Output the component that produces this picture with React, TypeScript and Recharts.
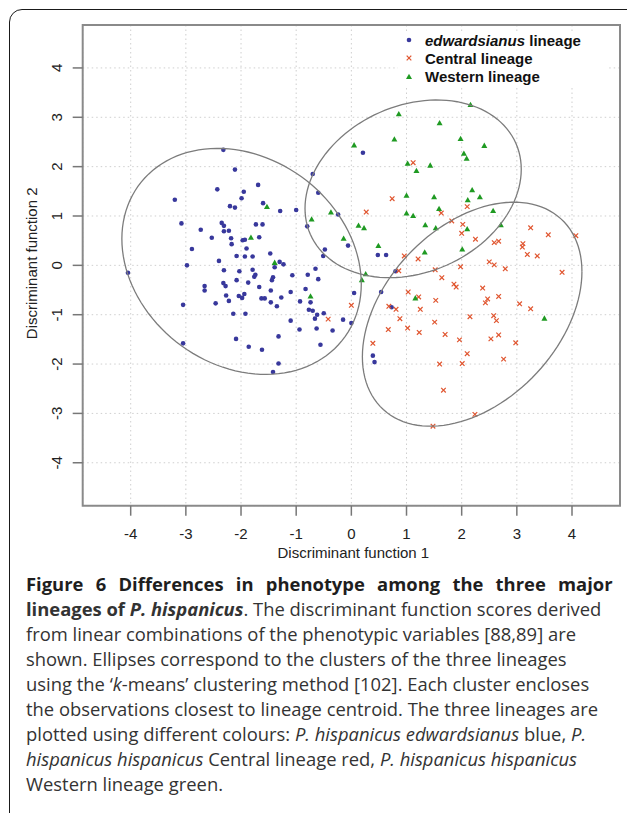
import React from 'react';
import { ScatterChart, Scatter, XAxis, YAxis, CartesianGrid, ReferenceArea, Legend, Label } from 'recharts';

// discriminant scores, one array per lineage
const edwardsianus = [
  { x: -2.32, y: 2.34 }, { x: -2.11, y: 1.94 }, { x: -1.69, y: 1.63 }, { x: -2.43, y: 1.54 },
  { x: -1.95, y: 1.49 }, { x: -3.2, y: 1.33 }, { x: -1.99, y: 1.36 }, { x: -1.6, y: 1.26 },
  { x: -2.2, y: 1.2 }, { x: -2.11, y: 1.17 }, { x: -1.29, y: 1.1 }, { x: -1.0, y: 1.12 },
  { x: -3.08, y: 0.85 }, { x: -2.35, y: 0.86 }, { x: -2.31, y: 0.8 }, { x: -1.73, y: 0.83 },
  { x: -1.61, y: 0.83 }, { x: -2.73, y: 0.72 }, { x: -2.31, y: 0.69 }, { x: -2.22, y: 0.7 },
  { x: -2.53, y: 0.56 }, { x: -2.18, y: 0.55 }, { x: -1.97, y: 0.51 }, { x: -1.93, y: 0.52 },
  { x: -1.67, y: 0.57 }, { x: -2.17, y: 0.43 }, { x: -2.89, y: 0.33 }, { x: -1.9, y: 0.34 },
  { x: -1.47, y: 0.24 }, { x: -2.08, y: 0.19 }, { x: -1.93, y: 0.18 }, { x: -1.79, y: 0.18 },
  { x: -2.4, y: 0.09 }, { x: -2.98, y: 0.0 }, { x: -1.3, y: 0.07 }, { x: -1.23, y: 0.02 },
  { x: -1.39, y: -0.04 }, { x: -4.05, y: -0.15 }, { x: -2.31, y: -0.1 }, { x: -2.03, y: -0.12 },
  { x: -1.79, y: -0.09 }, { x: -1.07, y: -0.2 }, { x: -0.79, y: -0.19 }, { x: -0.65, y: -0.07 },
  { x: -1.76, y: -0.23 }, { x: -1.74, y: -0.19 }, { x: -1.42, y: -0.24 }, { x: -2.08, y: -0.3 },
  { x: -1.87, y: -0.35 }, { x: -1.44, y: -0.3 }, { x: -0.6, y: -0.28 }, { x: -2.32, y: -0.36 },
  { x: -2.28, y: -0.42 }, { x: -2.66, y: -0.42 }, { x: -2.66, y: -0.51 }, { x: -1.67, y: -0.44 },
  { x: -0.83, y: -0.48 }, { x: -1.46, y: -0.51 }, { x: -1.1, y: -0.54 }, { x: -1.94, y: -0.58 },
  { x: -2.27, y: -0.61 }, { x: -2.04, y: -0.62 }, { x: -1.98, y: -0.66 }, { x: -1.63, y: -0.67 },
  { x: -1.57, y: -0.67 }, { x: -1.27, y: -0.65 }, { x: -0.74, y: -0.75 }, { x: -2.22, y: -0.72 },
  { x: -1.46, y: -0.75 }, { x: -0.93, y: -0.73 }, { x: -3.05, y: -0.8 }, { x: -2.46, y: -0.77 },
  { x: -1.35, y: -0.83 }, { x: -0.77, y: -0.9 }, { x: -0.7, y: -0.92 }, { x: -2.14, y: -0.98 },
  { x: -1.92, y: -0.98 }, { x: -0.5, y: -0.97 }, { x: -0.62, y: -1.0 }, { x: -0.66, y: -1.08 },
  { x: -0.15, y: -1.1 }, { x: 0.0, y: -1.17 }, { x: -1.1, y: -1.12 }, { x: -0.94, y: -1.3 },
  { x: -0.63, y: -1.28 }, { x: -0.34, y: -1.32 }, { x: -1.32, y: -1.44 }, { x: -2.09, y: -1.49 },
  { x: -3.05, y: -1.58 }, { x: -0.56, y: -1.61 }, { x: -1.86, y: -1.65 }, { x: -1.62, y: -1.71 },
  { x: -1.32, y: -1.99 }, { x: -1.42, y: -2.16 }, { x: 0.05, y: -0.56 }, { x: -0.7, y: 1.85 },
  { x: -0.6, y: 1.47 }, { x: -0.24, y: 1.03 }, { x: -0.8, y: 0.79 }, { x: -0.06, y: 0.4 },
  { x: -0.48, y: 0.32 }, { x: -0.51, y: 0.19 }, { x: 0.21, y: 2.28 }, { x: 0.48, y: 0.21 },
  { x: 0.63, y: 0.21 }, { x: 0.8, y: -0.12 }, { x: 0.54, y: -0.54 }, { x: 0.73, y: -0.85 },
  { x: 0.39, y: -1.83 }, { x: 0.42, y: -1.96 },
];

const central = [
  { x: 1.12, y: 2.08 }, { x: 0.74, y: 1.35 }, { x: 0.27, y: 1.08 }, { x: 1.63, y: 1.06 },
  { x: 2.1, y: 1.19 }, { x: 1.82, y: 0.9 }, { x: 2.02, y: 0.83 }, { x: 2.0, y: 0.65 },
  { x: 2.25, y: 0.53 }, { x: 2.59, y: 0.46 }, { x: 2.67, y: 0.49 }, { x: 3.11, y: 0.44 },
  { x: 3.19, y: 0.22 }, { x: 0.96, y: 0.19 }, { x: 1.21, y: 0.13 }, { x: 2.5, y: 0.07 },
  { x: 2.59, y: 0.01 }, { x: 1.98, y: -0.03 }, { x: 1.52, y: -0.09 }, { x: 2.79, y: -0.07 },
  { x: 0.86, y: -0.11 }, { x: 1.64, y: -0.25 }, { x: 1.86, y: -0.38 }, { x: 1.9, y: -0.44 },
  { x: 2.38, y: -0.46 }, { x: 3.25, y: 0.76 }, { x: 3.57, y: 0.62 }, { x: 4.07, y: 0.6 },
  { x: 3.1, y: 0.37 }, { x: 3.37, y: 0.19 }, { x: 3.82, y: -0.14 }, { x: 1.03, y: -0.54 },
  { x: 1.22, y: -0.64 }, { x: 2.67, y: -0.63 }, { x: 2.47, y: -0.68 }, { x: 2.43, y: -0.76 },
  { x: 1.53, y: -0.71 }, { x: 3.05, y: -0.78 }, { x: 3.25, y: -0.88 }, { x: 0.68, y: -0.83 },
  { x: 0.81, y: -0.89 }, { x: 1.25, y: -0.89 }, { x: 0.0, y: -0.81 }, { x: 0.88, y: -1.08 },
  { x: 2.15, y: -1.04 }, { x: 2.58, y: -1.02 }, { x: 2.63, y: -1.12 }, { x: 1.51, y: -1.15 },
  { x: 0.67, y: -1.3 }, { x: 1.02, y: -1.27 }, { x: 1.23, y: -1.36 }, { x: 1.7, y: -1.4 },
  { x: 2.53, y: -1.49 }, { x: 2.67, y: -1.41 }, { x: 1.96, y: -1.51 }, { x: 2.98, y: -1.57 },
  { x: 0.39, y: -1.58 }, { x: 2.1, y: -1.79 }, { x: 2.76, y: -1.9 }, { x: 1.6, y: -2.0 },
  { x: 2.01, y: -1.99 }, { x: 1.67, y: -2.53 }, { x: 2.24, y: -3.02 }, { x: 1.48, y: -3.26 },
  { x: -0.42, y: -1.09 },
];

const western = [
  { x: -1.53, y: 1.18 }, { x: -1.82, y: 0.56 }, { x: -1.39, y: 0.05 }, { x: -0.74, y: -0.63 },
  { x: -0.72, y: 0.93 }, { x: -0.37, y: 1.07 }, { x: -0.14, y: 0.54 }, { x: 0.13, y: 0.8 },
  { x: 0.05, y: 2.43 }, { x: 2.16, y: 3.25 }, { x: 0.86, y: 3.06 }, { x: 1.6, y: 2.88 },
  { x: 0.78, y: 2.55 }, { x: 1.98, y: 2.56 }, { x: 2.41, y: 2.42 }, { x: 2.04, y: 2.26 },
  { x: 2.09, y: 2.16 }, { x: 1.02, y: 2.06 }, { x: 1.43, y: 2.02 }, { x: 1.18, y: 1.91 },
  { x: 2.19, y: 1.52 }, { x: 1.0, y: 1.41 }, { x: 1.5, y: 1.38 }, { x: 2.33, y: 1.38 },
  { x: 2.11, y: 1.32 }, { x: 1.59, y: 1.14 }, { x: 2.57, y: 1.1 }, { x: 1.0, y: 1.05 },
  { x: 1.12, y: 1.0 }, { x: 1.34, y: 0.81 }, { x: 1.53, y: 0.75 }, { x: 2.71, y: 0.81 },
  { x: 2.1, y: 0.73 }, { x: 0.23, y: 0.75 }, { x: 0.49, y: 0.39 }, { x: 1.33, y: 0.26 },
  { x: 2.01, y: 0.32 }, { x: 0.26, y: -0.18 }, { x: 0.19, y: -0.3 }, { x: 1.16, y: -0.67 },
  { x: 3.5, y: -1.08 },
];

// k-means cluster ellipses: centre, half extent along each axis, and tilt (correlation)
const clusterEllipses = [
  { cx: -1.99, cy: 0.08, halfX: 2.17, halfY: 2.29, rho: -0.2 },
  { cx: 1.12, cy: 1.55, halfX: 1.96, halfY: 1.8, rho: 0.22 },
  { cx: 2.19, cy: -0.99, halfX: 1.99, halfY: 2.27, rho: 0.38 },
];

const axisTicks = [-4, -3, -2, -1, 0, 1, 2, 3, 4];
const axisDomain: [number, number] = [-4.87, 4.87];
const lineageNames = ['edwardsianus lineage', 'Central lineage', 'Western lineage'];

const BLUE = '#38389c';
const RED = '#e0552f';
const GREEN = '#1f9a22';
const SANS = '"Liberation Sans", Arial, sans-serif';

// outline of an ellipse, walked once round
const outline = (e: typeof clusterEllipses[number]) => {
  const pts = [];
  const k = Math.sqrt(1 - e.rho * e.rho);
  for (let deg = 0; deg <= 360; deg += 3) {
    const t = (deg * Math.PI) / 180;
    pts.push({
      x: e.cx + e.halfX * Math.cos(t),
      y: e.cy + e.halfY * (e.rho * Math.cos(t) + k * Math.sin(t)),
    });
  }
  return pts;
};

const DotMark = (p: any) => <circle cx={p.cx} cy={p.cy} r={2.3} fill={BLUE} />;

const CrossMark = (p: any) => {
  const s = 2.3;
  return (
    <g stroke={RED} strokeWidth={1.2}>
      <line x1={p.cx - s} y1={p.cy - s} x2={p.cx + s} y2={p.cy + s} />
      <line x1={p.cx - s} y1={p.cy + s} x2={p.cx + s} y2={p.cy - s} />
    </g>
  );
};

const TriMark = (p: any) => (
  <polygon points={`${p.cx},${p.cy - 3.3} ${p.cx - 3},${p.cy + 2} ${p.cx + 3},${p.cy + 2}`} fill={GREEN} />
);

const XTick = ({ x, y, payload }: any) => (
  <text x={x} y={y + 21} textAnchor="middle" fontSize={15} fill="#222" fontFamily={SANS}>
    {payload.value}
  </text>
);

const YTick = ({ x, y, payload }: any) => (
  <text
    x={x - 14}
    y={y}
    transform={`rotate(-90 ${x - 14} ${y})`}
    textAnchor="middle"
    dominantBaseline="central"
    fontSize={15}
    fill="#222"
    fontFamily={SANS}
  >
    {payload.value}
  </text>
);

const marks = [
  <svg width={10} height={10}><circle cx={5} cy={5} r={2.3} fill={BLUE} /></svg>,
  <svg width={10} height={10}>
    <g stroke={RED} strokeWidth={1.2}>
      <line x1={2.7} y1={2.7} x2={7.3} y2={7.3} />
      <line x1={2.7} y1={7.3} x2={7.3} y2={2.7} />
    </g>
  </svg>,
  <svg width={10} height={10}><polygon points="5,1.7 2,7 8,7" fill={GREEN} /></svg>,
];

const LegendBox = () => (
  <div style={{ position: 'relative', width: 210, height: 57, background: '#fff', fontFamily: SANS, fontWeight: 'bold', fontSize: 15, color: '#111' }}>
    {lineageNames.map((name, i) => (
      <div key={name} style={{ position: 'absolute', left: 0, top: i * 18.35, height: 18, display: 'flex', alignItems: 'center' }}>
        <div style={{ width: 22, display: 'flex', justifyContent: 'center' }}>{marks[i]}</div>
        <span style={{ marginLeft: 5, whiteSpace: 'nowrap' }}>
          {i === 0 ? (<><i>edwardsianus</i> lineage</>) : name}
        </span>
      </div>
    ))}
  </div>
);

const captionLines = [
  <><b>Figure 6 Differences in phenotype among the three major</b></>,
  <><b>lineages of <i>P. hispanicus</i></b>. The discriminant function scores derived</>,
  <>from linear combinations of the phenotypic variables [88,89] are</>,
  <>shown. Ellipses correspond to the clusters of the three lineages</>,
  <>using the ‘<i>k</i>-means’ clustering method [102]. Each cluster encloses</>,
  <>the observations closest to lineage centroid. The three lineages are</>,
  <>plotted using different colours: <i>P. hispanicus edwardsianus</i> blue, <i>P.</i></>,
  <><i>hispanicus hispanicus</i> Central lineage red, <i>P. hispanicus hispanicus</i></>,
  <>Western lineage green.</>,
];

export default function App() {
  return (
    <div style={{ position: 'absolute', left: 0, top: 0, width: 627, height: 813, background: '#fff', overflow: 'hidden' }}>
      <div style={{ position: 'absolute', left: 9, top: 9, width: 700, height: 900, border: '1.5px solid #1a1a1a', borderRadius: 13 }} />
      <div style={{ position: 'absolute', left: 0, top: 0 }}>
        <ScatterChart width={627} height={570} margin={{ top: 25, right: 7, bottom: 24.3, left: 52.7 }}>
          <CartesianGrid stroke="#cfcfcf" strokeDasharray="1.5 3" />
          <XAxis
            type="number"
            dataKey="x"
            domain={axisDomain}
            ticks={axisTicks}
            allowDataOverflow
            height={40}
            tickSize={10}
            axisLine={false}
            tickLine={{ stroke: '#777', strokeWidth: 1.5 }}
            tick={<XTick />}
          >
            <Label
              content={({ viewBox }: any) => (
                <text x={viewBox.x + viewBox.width / 2 + 2} y={viewBox.y + 52} textAnchor="middle" fontSize={15} fill="#222" fontFamily={SANS}>
                  Discriminant function 1
                </text>
              )}
            />
          </XAxis>
          <YAxis
            type="number"
            dataKey="y"
            domain={axisDomain}
            ticks={axisTicks}
            allowDataOverflow
            width={30}
            tickSize={10}
            axisLine={false}
            tickLine={{ stroke: '#777', strokeWidth: 1.5 }}
            tick={<YTick />}
          >
            <Label
              content={({ viewBox }: any) => {
                const cx = viewBox.x - 21;
                const cy = viewBox.y + viewBox.height / 2 - 2;
                return (
                  <text x={cx} y={cy} transform={`rotate(-90 ${cx} ${cy})`} textAnchor="middle" dominantBaseline="central" fontSize={15} fill="#222" fontFamily={SANS}>
                    Discriminant function 2
                  </text>
                );
              }}
            />
          </YAxis>
          <ReferenceArea x1={axisDomain[0]} x2={axisDomain[1]} y1={axisDomain[0]} y2={axisDomain[1]} fill="none" stroke="#8a8a8a" strokeWidth={2} ifOverflow="visible" />
          <Scatter name={lineageNames[0]} data={edwardsianus} shape={<DotMark />} isAnimationActive={false} />
          <Scatter name={lineageNames[1]} data={central} shape={<CrossMark />} isAnimationActive={false} />
          <Scatter name={lineageNames[2]} data={western} shape={<TriMark />} isAnimationActive={false} />
          {clusterEllipses.map((e, i) => (
            <Scatter
              key={i}
              data={outline(e)}
              line={{ stroke: '#7c7c7c', strokeWidth: 1.3 }}
              lineType="joint"
              shape={() => <g />}
              legendType="none"
              isAnimationActive={false}
            />
          ))}
          <Legend
            layout="vertical"
            align="center"
            verticalAlign="middle"
            wrapperStyle={{ left: 398, top: 31, width: 210, height: 57 }}
            content={() => <LegendBox />}
          />
        </ScatterChart>
      </div>
      <div style={{ position: 'absolute', left: 26, top: 570.5, fontFamily: '"Open Sans", sans-serif', fontSize: 18.4, lineHeight: '25px', color: '#333', whiteSpace: 'nowrap' }}>
        {captionLines.map((line, i) => (
          <div key={i} style={{ color: i === 0 ? '#1e1e1e' : '#333', wordSpacing: i === 0 ? 7.5 : 0 }}>{line}</div>
        ))}
      </div>
    </div>
  );
}
